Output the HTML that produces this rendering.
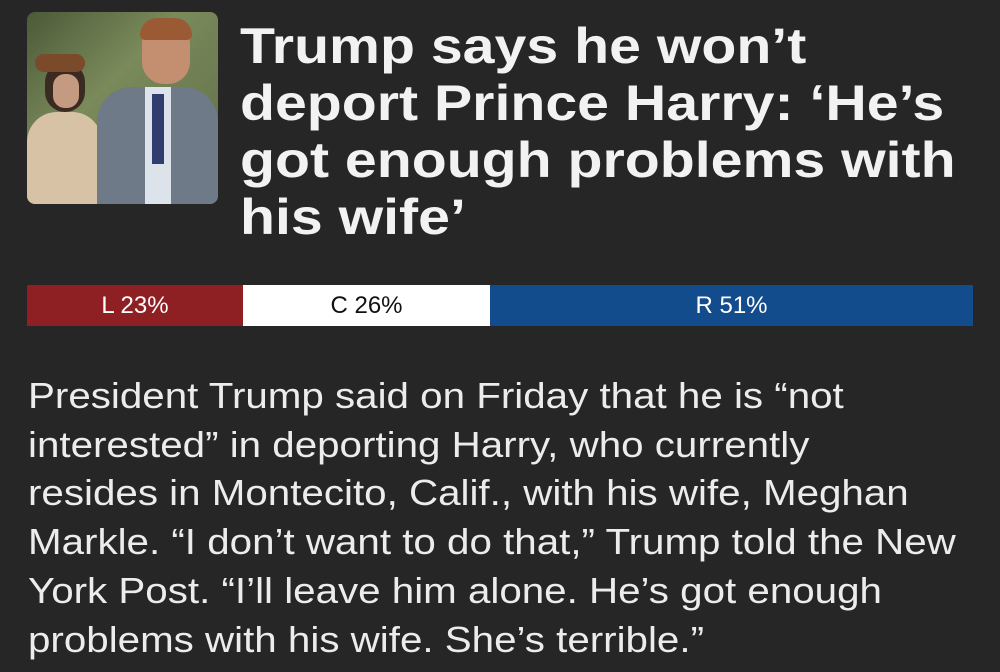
<!DOCTYPE html>
<html><head><meta charset="utf-8"><style>
body{margin:0;width:1000px;height:672px;background:#262626;overflow:hidden;font-family:"Liberation Sans",sans-serif;position:relative}
.img{position:absolute;left:27px;top:12px;width:191px;height:192px;border-radius:8px;overflow:hidden;background:linear-gradient(135deg,#4b5a38,#7a8a5a 40%,#5e6b48)}
.t{position:absolute;left:240px;top:18px;width:900px;color:#f2f2f2;font-weight:bold;font-size:50px;line-height:57px}
.t div,.p div{transform-origin:0 0;white-space:nowrap}
.t div{transform:scaleX(1.145)}
.bar{position:absolute;top:285px;height:41px;font-size:24px;line-height:41px;text-align:center}
.p{position:absolute;left:28px;top:372px;width:1000px;color:#ececec;font-size:36px;line-height:48.7px}
.p div{transform:scaleX(1.12)}
</style></head><body>
<div class="img">
<div style="position:absolute;left:0;top:100px;width:75px;height:92px;background:#d8c2a6;border-radius:30px 30px 0 0"></div>
<div style="position:absolute;left:18px;top:50px;width:40px;height:50px;background:#3a2a22;border-radius:20px"></div>
<div style="position:absolute;left:26px;top:62px;width:26px;height:34px;background:#c49a80;border-radius:12px"></div>
<div style="position:absolute;left:8px;top:42px;width:50px;height:18px;background:#7a4a2a;border-radius:10px"></div>
<div style="position:absolute;left:70px;top:75px;width:121px;height:117px;background:#6e7a88;border-radius:35px 35px 0 0"></div>
<div style="position:absolute;left:118px;top:75px;width:26px;height:117px;background:#dde3ea"></div>
<div style="position:absolute;left:125px;top:82px;width:12px;height:70px;background:#2f3e6e"></div>
<div style="position:absolute;left:115px;top:10px;width:48px;height:62px;background:#c48e70;border-radius:22px"></div>
<div style="position:absolute;left:113px;top:6px;width:52px;height:22px;background:#9a5a34;border-radius:20px 20px 6px 6px"></div>
</div>
<div class="t"><div>Trump says he won’t</div><div>deport Prince Harry: ‘He’s</div><div>got enough problems with</div><div>his wife’</div></div>
<div class="bar" style="left:27px;width:216px;background:#8e1f22;color:#fff">L 23%</div>
<div class="bar" style="left:243px;width:247px;background:#fff;color:#111">C 26%</div>
<div class="bar" style="left:490px;width:483px;background:#134c8c;color:#fff">R 51%</div>
<div class="p"><div>President Trump said on Friday that he is “not</div><div>interested” in deporting Harry, who currently</div><div>resides in Montecito, Calif., with his wife, Meghan</div><div>Markle. “I don’t want to do that,” Trump told the New</div><div>York Post. “I’ll leave him alone. He’s got enough</div><div>problems with his wife. She’s terrible.”</div></div>
</body></html>
